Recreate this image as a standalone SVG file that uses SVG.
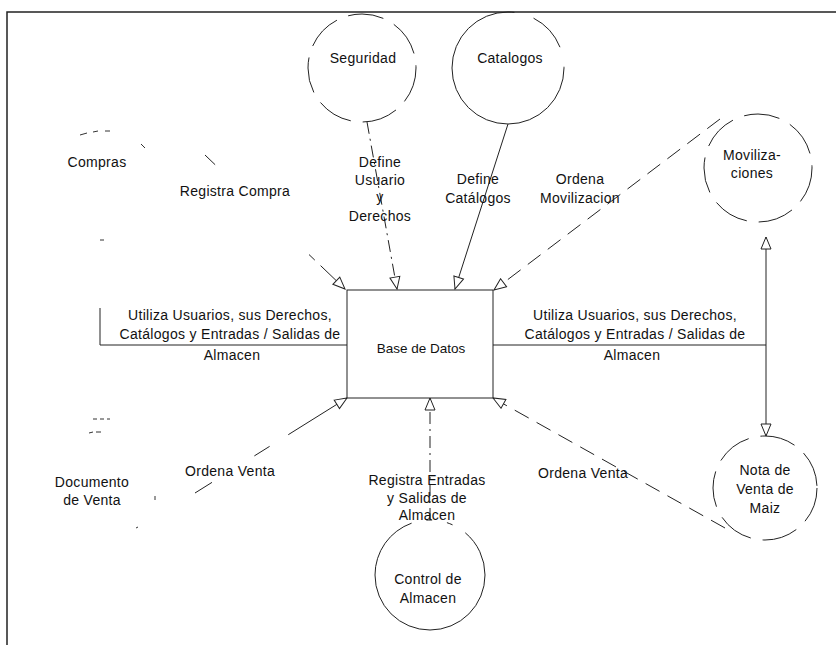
<svg xmlns="http://www.w3.org/2000/svg" width="836" height="645" viewBox="0 0 836 645">
<style>
text{font-family:"Liberation Sans",Arial,sans-serif;font-size:14px;letter-spacing:0.3px;fill:#111;text-anchor:middle}
.c{fill:none;stroke:#222;stroke-width:1}
.dash{stroke-dasharray:36 12}
.frag{fill:none;stroke:#333;stroke-width:1}
.ln{fill:none;stroke:#222;stroke-width:1}
.dd{stroke-dasharray:12 5 2 5}
.ds{stroke-dasharray:16 9}
</style>
<defs>
<marker id="ah" viewBox="0 0 14 12" refX="13" refY="6" markerWidth="14" markerHeight="12" markerUnits="userSpaceOnUse" orient="auto">
<path d="M1,1 L13,6 L1,11 z" fill="#fff" stroke="#222" stroke-width="1"/>
</marker>
</defs>
<rect width="836" height="645" fill="#fff"/>
<path d="M7,645 V12 H836" fill="none" stroke="#222" stroke-width="1.5"/>

<g id="connectors">
<path class="ln dd" d="M367,122 L397,289" marker-end="url(#ah)"/>
<path class="ln" d="M508,124 L455,289" marker-end="url(#ah)"/>
<path class="ln ds" d="M720,119 L494,290" marker-end="url(#ah)"/>
<path class="ln" stroke-dasharray="14 130 8 8 40" d="M205,155 L345,289" marker-end="url(#ah)"/>
<path class="ln" d="M347,345 H100 V308"/>
<path class="ln" d="M493,345 H766 V237" marker-end="url(#ah)"/>
<path class="ln" d="M766,345 V436" marker-end="url(#ah)"/>
<path class="ln" stroke-dasharray="20 50 18 22 80" d="M195,493 L347,398" marker-end="url(#ah)"/>
<path class="ln dd" d="M430,520 L430,398" marker-end="url(#ah)"/>
<path class="ln ds" d="M725,528 L493,398" marker-end="url(#ah)"/>
</g>

<g id="db">
<rect x="347" y="290" width="146" height="108" fill="#fff" stroke="#222" stroke-width="1"/>
<text x="421" y="353" style="font-size:13.5px;letter-spacing:0">Base de Datos</text>
</g>

<g id="seguridad">
<circle class="c dash" cx="362" cy="68" r="54"/>
<text x="363" y="63">Seguridad</text>
</g>
<g id="catalogos">
<circle class="c" cx="508" cy="68" r="56" stroke-dasharray="270 20 40 20"/>
<text x="510" y="63">Catalogos</text>
</g>
<g id="movilizaciones">
<circle class="c dash" cx="758" cy="168" r="54"/>
<text x="752" y="160">Moviliza-</text>
<text x="752" y="178">ciones</text>
</g>
<g id="compras">
<path class="frag" d="M80,135 L87,133 M93,132 L98,131 M105,131 L110,131 M141,144 L145,148 M100,240 L104,240"/>
<text x="97" y="167">Compras</text>
</g>
<g id="documento">
<path class="frag" d="M93,419 L97,419 M100,419 L104,419 M107,419 L110,419 M89,433 L93,432 M96,432 L101,432 M155,496 L155,500 M136,528 L138,527"/>
<text x="92" y="487">Documento</text>
<text x="92" y="505">de Venta</text>
</g>
<g id="control">
<circle class="c" cx="430" cy="575" r="55" stroke-dasharray="240 15 6 15 6 15 60"/>
<text x="428" y="584">Control de</text>
<text x="428" y="603">Almacen</text>
</g>
<g id="nota">
<circle class="c dash" cx="765" cy="488" r="52"/>
<text x="765" y="475">Nota de</text>
<text x="765" y="494">Venta de</text>
<text x="765" y="513">Maiz</text>
</g>

<g id="labels">
<text x="380" y="167">Define</text>
<text x="380" y="185">Usuario</text>
<text x="380" y="202">y</text>
<text x="380" y="221">Derechos</text>
<text x="478" y="184">Define</text>
<text x="478" y="203">Catálogos</text>
<text x="580" y="184">Ordena</text>
<text x="580" y="203">Movilizacion</text>
<text x="235" y="196">Registra Compra</text>
<text x="230" y="320">Utiliza Usuarios, sus Derechos,</text>
<text x="230" y="339">Catálogos y Entradas /  Salidas de</text>
<text x="232" y="360">Almacen</text>
<text x="635" y="320">Utiliza Usuarios, sus Derechos,</text>
<text x="635" y="339">Catálogos y Entradas /  Salidas de</text>
<text x="632" y="360">Almacen</text>
<text x="230" y="476">Ordena Venta</text>
<text x="583" y="478">Ordena Venta</text>
<text x="427" y="485">Registra Entradas</text>
<text x="427" y="503">y Salidas de</text>
<text x="427" y="520">Almacen</text>
</g>
</svg>
